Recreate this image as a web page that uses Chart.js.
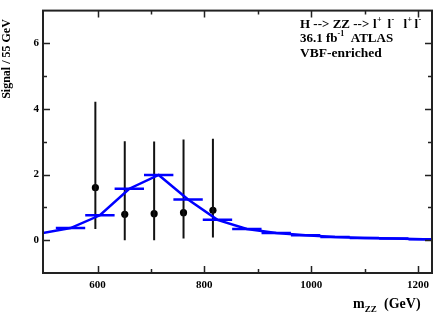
<!DOCTYPE html>
<html>
<head>
<meta charset="utf-8">
<script src="https://cdn.jsdelivr.net/npm/chart.js@4.4.1/dist/chart.umd.min.js"></script>
<style>
  html, body { margin: 0; padding: 0; background: #fff; }
  #wrap { width: 436px; height: 315px; }
</style>
</head>
<body>
<div id="wrap"><canvas id="chart" width="436" height="315"></canvas></div>
<script>
// ── data ────────────────────────────────────────────────────────────
const binCenters  = [549.5, 604.5, 659.5, 714.5, 769.5, 824.5, 879.5, 934.5, 989.5, 1044.5, 1099.5, 1154.5, 1209.5];
const binSignal   = [0.37, 0.76, 1.57, 1.99, 1.24, 0.62, 0.34, 0.22, 0.15, 0.10, 0.07, 0.05, 0.03];
const binWidth    = 55;

const lineMass    = [494.5, 549.5, 604.5, 659.5, 714.5, 769.5, 824.5, 879.5, 934.5, 989.5, 1044.5, 1099.5, 1154.5, 1209.5, 1264.5];
const lineSignal  = [0.21, 0.37, 0.76, 1.57, 1.99, 1.24, 0.62, 0.34, 0.22, 0.15, 0.10, 0.07, 0.05, 0.03, 0.02];

const dataMass    = [596, 651, 706, 761, 816];
const dataSignal  = [1.60, 0.79, 0.81, 0.84, 0.91];
const dataErrLow  = [0.34, 0.00, 0.00, 0.05, 0.08];
const dataErrHigh = [4.22, 3.02, 3.01, 3.07, 3.09];

const xMajorTicks = [600, 800, 1000, 1200];
const xMinorTicks = [700, 900, 1100];
const yMajorTicks = [0, 2, 4, 6];
const yMinorTicks = [1, 3, 5];

const SERIF = '"Liberation Serif", "DejaVu Serif", "Times New Roman", serif';
const BLUE  = '#0000ff';

// histogram steps as separate segments (null breaks the line)
const stepPoints = [];
binCenters.forEach((c, i) => {
  stepPoints.push({ x: c - binWidth / 2, y: binSignal[i] });
  stepPoints.push({ x: c + binWidth / 2, y: binSignal[i] });
  stepPoints.push({ x: c + binWidth / 2, y: null });
});

const errPoints = [];
dataMass.forEach((m, i) => {
  errPoints.push({ x: m, y: dataErrLow[i] });
  errPoints.push({ x: m, y: dataErrHigh[i] });
  errPoints.push({ x: m, y: null });
});

// runs of text with optional super/subscripts; "at" pins a run's x
function drawRuns(ctx, x, y, runs, size) {
  runs.forEach(r => {
    if (r.at !== undefined) x = r.at;
    const small = r.sup || r.sub;
    const fs = small ? Math.round(size * 0.62) : size;
    ctx.font = 'bold ' + fs + 'px ' + SERIF;
    const dy = r.sup ? -size * 0.48 : (r.sub ? size * 0.32 : 0);
    ctx.fillText(r.t, x, y + dy);
    x += ctx.measureText(r.t).width;
  });
}

const framePlugin = {
  id: 'frame',
  afterDraw(chart) {
    const { ctx, chartArea: a, scales } = chart;
    const xs = scales.x, ys = scales.y;
    ctx.save();

    // inward tick marks on all four sides
    ctx.strokeStyle = '#222';
    ctx.lineWidth = 1.5;
    ctx.beginPath();
    const xt = (vals, len) => vals.forEach(v => {
      const px = Math.round(xs.getPixelForValue(v)) + 0.5;
      ctx.moveTo(px, a.bottom); ctx.lineTo(px, a.bottom - len);
      ctx.moveTo(px, a.top);    ctx.lineTo(px, a.top + len);
    });
    const yt = (vals, len) => vals.forEach(v => {
      const py = Math.round(ys.getPixelForValue(v)) + 0.5;
      ctx.moveTo(a.left, py);  ctx.lineTo(a.left + len, py);
      ctx.moveTo(a.right, py); ctx.lineTo(a.right - len, py);
    });
    xt(xMajorTicks, 7); xt(xMinorTicks, 4);
    yt(yMajorTicks, 7); yt(yMinorTicks, 4);
    ctx.stroke();

    // frame
    ctx.lineWidth = 2;
    ctx.strokeStyle = '#222';
    ctx.strokeRect(a.left, a.top, a.right - a.left, a.bottom - a.top);

    ctx.fillStyle = '#000';
    ctx.textAlign = 'left';
    ctx.textBaseline = 'alphabetic';

    // y title
    ctx.save();
    ctx.translate(10, 59);
    ctx.rotate(-Math.PI / 2);
    ctx.textAlign = 'center';
    ctx.font = 'bold 12px ' + SERIF;
    ctx.fillText('Signal / 55 GeV', 0, 0);
    ctx.restore();

    // x title
    drawRuns(ctx, 353, 307.5, [{ t: 'm' }, { t: 'ZZ', sub: true }], 14);
    ctx.font = 'bold 14px ' + SERIF;
    ctx.fillText('(GeV)', 384, 307.5);

    // label block
    drawRuns(ctx, 300, 28, [
      { t: 'H --> ZZ -->' },
      { t: 'l', at: 373 }, { t: '+', sup: true, at: 377 },
      { t: 'l', at: 387.5 }, { t: '-', sup: true, at: 391.5 },
      { t: 'l', at: 403.5 }, { t: '+', sup: true, at: 407.5 },
      { t: 'l', at: 414.5 }, { t: '-', sup: true, at: 418.5 }
    ], 13);
    drawRuns(ctx, 300, 42, [{ t: '36.1 fb' }, { t: '-1', sup: true }, { t: '  ATLAS' }], 13);
    drawRuns(ctx, 300, 57, [{ t: 'VBF-enriched' }], 13.5);

    ctx.restore();
  }
};

new Chart(document.getElementById('chart'), {
  type: 'scatter',
  data: {
    datasets: [
      {
        label: 'steps',
        type: 'line',
        data: stepPoints,
        borderColor: BLUE,
        borderWidth: 2.5,
        pointRadius: 0,
        spanGaps: false,
        fill: false,
      },
      {
        label: 'signal',
        type: 'line',
        data: lineMass.map((m, i) => ({ x: m, y: lineSignal[i] })),
        borderColor: BLUE,
        borderWidth: 2.5,
        pointRadius: 0,
        tension: 0,
        fill: false,
      },
      {
        label: 'errors',
        type: 'line',
        data: errPoints,
        borderColor: '#111',
        borderWidth: 2,
        pointRadius: 0,
        spanGaps: false,
        fill: false,
      },
      {
        label: 'data',
        data: dataMass.map((m, i) => ({ x: m, y: dataSignal[i] })),
        backgroundColor: '#000',
        borderColor: '#000',
        pointRadius: 3.6,
        pointBorderWidth: 0,
      },
    ]
  },
  options: {
    responsive: false,
    animation: false,
    devicePixelRatio: 1,
    layout: { padding: { top: 2, right: 4, left: 0, bottom: 0 } },
    plugins: {
      legend: { display: false },
      tooltip: { enabled: false },
    },
    scales: {
      x: {
        type: 'linear',
        min: 498,
        max: 1226,
        grid: { display: false, drawTicks: false },
        border: { display: false },
        afterBuildTicks: s => { s.ticks = xMajorTicks.map(v => ({ value: v })); },
        afterFit: s => { s.height = 42; },
        ticks: {
          padding: 6,
          color: '#000',
          maxRotation: 0,
          autoSkip: false,
          callback: v => String(v),
          font: { family: SERIF, size: 11, weight: 'bold' },
        },
      },
      y: {
        min: -1,
        max: 7,
        grid: { display: false, drawTicks: false },
        border: { display: false },
        afterBuildTicks: s => { s.ticks = yMajorTicks.map(v => ({ value: v })); },
        afterFit: s => { s.width = 43; },
        ticks: {
          padding: 4,
          color: '#000',
          autoSkip: false,
          callback: v => String(v),
          font: { family: SERIF, size: 11, weight: 'bold' },
        },
      }
    }
  },
  plugins: [framePlugin]
});
</script>
</body>
</html>
